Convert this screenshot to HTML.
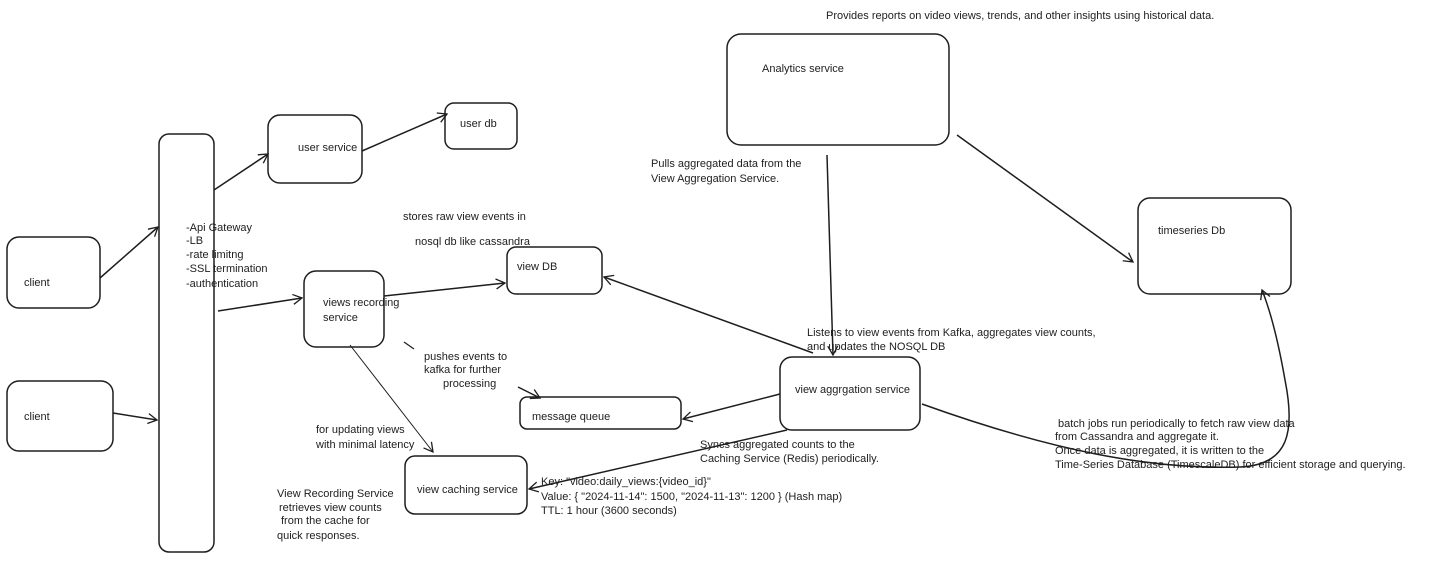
<!DOCTYPE html>
<html><head><meta charset="utf-8"><style>
html,body{margin:0;padding:0;background:#fff;width:1456px;height:565px;overflow:hidden}
svg text{font-family:"Liberation Sans",sans-serif;font-size:11px;fill:#1e1e1e}
</style></head><body>
<svg width="1456" height="565" viewBox="0 0 1456 565" xmlns="http://www.w3.org/2000/svg">
<defs><marker id="a" markerWidth="12" markerHeight="12" refX="10" refY="6" orient="auto" markerUnits="userSpaceOnUse"><path d="M1,1 L10,6 L1,11" fill="none" stroke="#1e1e1e" stroke-width="1.3"/></marker></defs>
<g fill="none" stroke="#1e1e1e" stroke-width="1.5">
<rect x="7" y="237" width="93" height="71" rx="12"/>
<rect x="7" y="381" width="106" height="70" rx="12"/>
<rect x="159" y="134" width="55" height="418" rx="10"/>
<rect x="268" y="115" width="94" height="68" rx="12"/>
<rect x="445" y="103" width="72" height="46" rx="9"/>
<rect x="304" y="271" width="80" height="76" rx="12"/>
<rect x="507" y="247" width="95" height="47" rx="9"/>
<rect x="520" y="397" width="161" height="32" rx="7"/>
<rect x="405" y="456" width="122" height="58" rx="10"/>
<rect x="780" y="357" width="140" height="73" rx="12"/>
<rect x="727" y="34" width="222" height="111" rx="14"/>
<rect x="1138" y="198" width="153" height="96" rx="12"/>
</g>
<g fill="none" stroke="#1e1e1e" stroke-width="1.5" marker-end="url(#a)">
<line x1="100" y1="278" x2="158" y2="227"/>
<line x1="113" y1="413" x2="157" y2="420"/>
<line x1="214" y1="190" x2="268" y2="154"/>
<line x1="362" y1="151" x2="447" y2="114"/>
<line x1="218" y1="311" x2="302" y2="298"/>
<line x1="384" y1="296" x2="505" y2="283"/>
<line x1="350" y1="345" x2="433" y2="452" stroke-width="1"/>
<line x1="518" y1="387" x2="540" y2="398"/>
<line x1="813" y1="353" x2="604" y2="277"/>
<line x1="827" y1="155" x2="833" y2="355"/>
<line x1="957" y1="135" x2="1133" y2="262"/>
<line x1="780" y1="394" x2="683" y2="419"/>
<line x1="787" y1="430" x2="529" y2="489"/>
<path d="M922,404 C1050,450 1150,470 1240,467 C1290,465 1295,430 1285,380 C1278,340 1270,310 1262,290"/>
</g>
<line x1="404" y1="342" x2="414" y2="349" stroke="#1e1e1e" stroke-width="1.2"/>
<text x="24" y="286">client</text>
<text x="24" y="420">client</text>
<text x="186" y="231">-Api Gateway</text>
<text x="186" y="244">-LB</text>
<text x="186" y="258">-rate limitng</text>
<text x="186" y="272">-SSL termination</text>
<text x="186" y="287">-authentication</text>
<text x="298" y="151">user service</text>
<text x="460" y="127">user db</text>
<text x="323" y="306">views recording</text>
<text x="323" y="321">service</text>
<text x="517" y="270">view DB</text>
<text x="532" y="420">message queue</text>
<text x="417" y="493">view caching service</text>
<text x="795" y="393">view aggrgation service</text>
<text x="762" y="72">Analytics service</text>
<text x="1158" y="234">timeseries Db</text>
<text x="826" y="19">Provides reports on video views, trends, and other insights using historical data.</text>
<text x="651" y="167">Pulls aggregated data from the</text>
<text x="651" y="182">View Aggregation Service.</text>
<text x="403" y="220">stores raw view events in</text>
<text x="415" y="245">nosql db like cassandra</text>
<text x="807" y="336">Listens to view events from Kafka, aggregates view counts,</text>
<text x="807" y="350">and updates the NOSQL DB</text>
<text x="424" y="360">pushes events to</text>
<text x="424" y="373">kafka for further</text>
<text x="443" y="387">processing</text>
<text x="316" y="433">for updating views</text>
<text x="316" y="448">with minimal latency</text>
<text x="700" y="448">Syncs aggregated counts to the</text>
<text x="700" y="462">Caching Service (Redis) periodically.</text>
<text x="277" y="497">View Recording Service</text>
<text x="279" y="511"> retrieves view counts</text>
<text x="281" y="524"> from the cache for</text>
<text x="277" y="539">quick responses.</text>
<text x="541" y="485">Key: "video:daily_views:{video_id}"</text>
<text x="541" y="500">Value: { "2024-11-14": 1500, "2024-11-13": 1200 } (Hash map)</text>
<text x="541" y="514">TTL: 1 hour (3600 seconds)</text>
<text x="1058" y="427">batch jobs run periodically to fetch raw view data</text>
<text x="1055" y="440">from Cassandra and aggregate it.</text>
<text x="1055" y="454">Once data is aggregated, it is written to the</text>
<text x="1055" y="468">Time-Series Database (TimescaleDB) for efficient storage and querying.</text>
</svg>
</body></html>
